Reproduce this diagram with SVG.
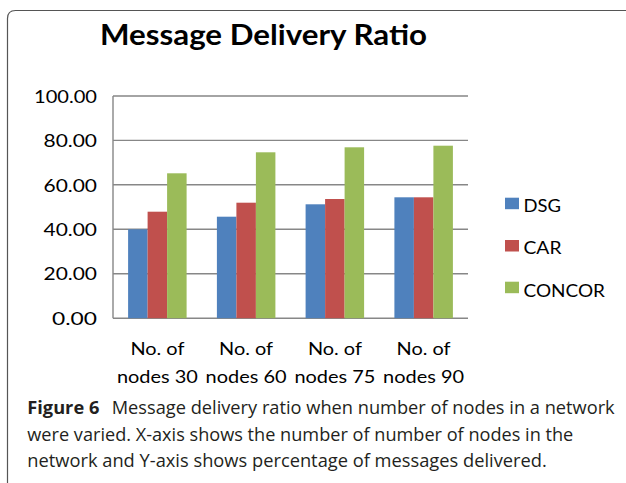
<svg xmlns="http://www.w3.org/2000/svg" width="626" height="483" viewBox="0 0 626 483">
<style>
.chart{font-family:Lato,"Open Sans","Liberation Sans",sans-serif;fill:#000}
.title{font-size:29px;font-weight:bold}
.ytick{font-size:17.5px;text-anchor:end}
.xlab{font-size:18px;text-anchor:middle}
.leg{font-size:16.5px}
.cap{font-family:"Open Sans","Noto Sans","Liberation Sans",sans-serif;font-size:17.5px;fill:#231f20}
.grid{stroke:#878787;stroke-width:1.4;fill:none}
.dsg{fill:#4f81bd}
.car{fill:#c0504d}
.con{fill:#9bbb59}
</style>
<rect width="626" height="483" fill="#ffffff"/>
<path d="M7.5,483 V18.5 Q7.5,10.5 15.5,10.5 H626" fill="none" stroke="#555" stroke-width="1.2"/>
<text class="chart title" x="100" y="45" textLength="327" lengthAdjust="spacingAndGlyphs">Message Delivery Ratio</text>
<g id="axes">
<path class="grid" d="M113,96 H468 M113,140.4 H468 M113,184.8 H468 M113,229.3 H468 M113,273.7 H468 M113,318.2 H468 M113,96 V318.2"/>
</g>
<g id="yticks" class="chart">
<text class="ytick" x="97" y="102.7" textLength="63" lengthAdjust="spacingAndGlyphs">100.00</text>
<text class="ytick" x="97" y="147.1" textLength="53.5" lengthAdjust="spacingAndGlyphs">80.00</text>
<text class="ytick" x="97" y="191.5" textLength="53.5" lengthAdjust="spacingAndGlyphs">60.00</text>
<text class="ytick" x="97" y="236" textLength="53.5" lengthAdjust="spacingAndGlyphs">40.00</text>
<text class="ytick" x="97" y="280.4" textLength="53.5" lengthAdjust="spacingAndGlyphs">20.00</text>
<text class="ytick" x="97" y="324.9" textLength="45" lengthAdjust="spacingAndGlyphs">0.00</text>
</g>
<g id="bars">
<rect class="dsg" x="128.1" y="229.3" width="19.5" height="88.9"/>
<rect class="car" x="147.6" y="211.7" width="19.5" height="106.5"/>
<rect class="con" x="167.1" y="173.3" width="19.5" height="144.9"/>
<rect class="dsg" x="216.9" y="216.7" width="19.5" height="101.5"/>
<rect class="car" x="236.4" y="202.7" width="19.5" height="115.5"/>
<rect class="con" x="255.9" y="152.3" width="19.5" height="165.9"/>
<rect class="dsg" x="305.6" y="204.3" width="19.5" height="113.9"/>
<rect class="car" x="325.1" y="199" width="19.5" height="119.2"/>
<rect class="con" x="344.6" y="147.3" width="19.5" height="170.9"/>
<rect class="dsg" x="394.4" y="197.3" width="19.5" height="120.9"/>
<rect class="car" x="413.9" y="197.3" width="19.5" height="120.9"/>
<rect class="con" x="433.4" y="145.7" width="19.5" height="172.5"/>
</g>
<g id="xlabels" class="chart">
<text class="xlab" x="157.4" y="355" textLength="54" lengthAdjust="spacingAndGlyphs">No. of</text>
<text class="xlab" x="157.4" y="383.3" textLength="81" lengthAdjust="spacingAndGlyphs">nodes 30</text>
<text class="xlab" x="246.1" y="355" textLength="54" lengthAdjust="spacingAndGlyphs">No. of</text>
<text class="xlab" x="246.1" y="383.3" textLength="81" lengthAdjust="spacingAndGlyphs">nodes 60</text>
<text class="xlab" x="334.9" y="355" textLength="54" lengthAdjust="spacingAndGlyphs">No. of</text>
<text class="xlab" x="334.9" y="383.3" textLength="81" lengthAdjust="spacingAndGlyphs">nodes 75</text>
<text class="xlab" x="423.6" y="355" textLength="54" lengthAdjust="spacingAndGlyphs">No. of</text>
<text class="xlab" x="423.6" y="383.3" textLength="81" lengthAdjust="spacingAndGlyphs">nodes 90</text>
</g>
<g id="legend" class="chart">
<g id="legend-dsg"><rect class="dsg" x="505" y="197.7" width="14" height="11.5"/><text class="leg" x="523.5" y="211.7" textLength="37.5" lengthAdjust="spacingAndGlyphs">DSG</text></g>
<g id="legend-car"><rect class="car" x="505" y="240" width="14" height="11.5"/><text class="leg" x="523.5" y="254.2" textLength="38" lengthAdjust="spacingAndGlyphs">CAR</text></g>
<g id="legend-concor"><rect class="con" x="505" y="281.7" width="14" height="11.5"/><text class="leg" x="523.5" y="296.5" textLength="81.5" lengthAdjust="spacingAndGlyphs">CONCOR</text></g>
</g>
<g id="caption" class="cap">
<text class="cap" x="27.3" y="414.3" font-weight="bold" textLength="72" lengthAdjust="spacingAndGlyphs">Figure 6</text>
<text class="cap" x="111.7" y="414.3" textLength="503" lengthAdjust="spacingAndGlyphs">Message delivery ratio when number of nodes in a network</text>
<text class="cap" x="27.3" y="440.8" textLength="546" lengthAdjust="spacingAndGlyphs">were varied. X-axis shows the number of number of nodes in the</text>
<text class="cap" x="27.3" y="466.7" textLength="519.5" lengthAdjust="spacingAndGlyphs">network and Y-axis shows percentage of messages delivered.</text>
</g>
</svg>
